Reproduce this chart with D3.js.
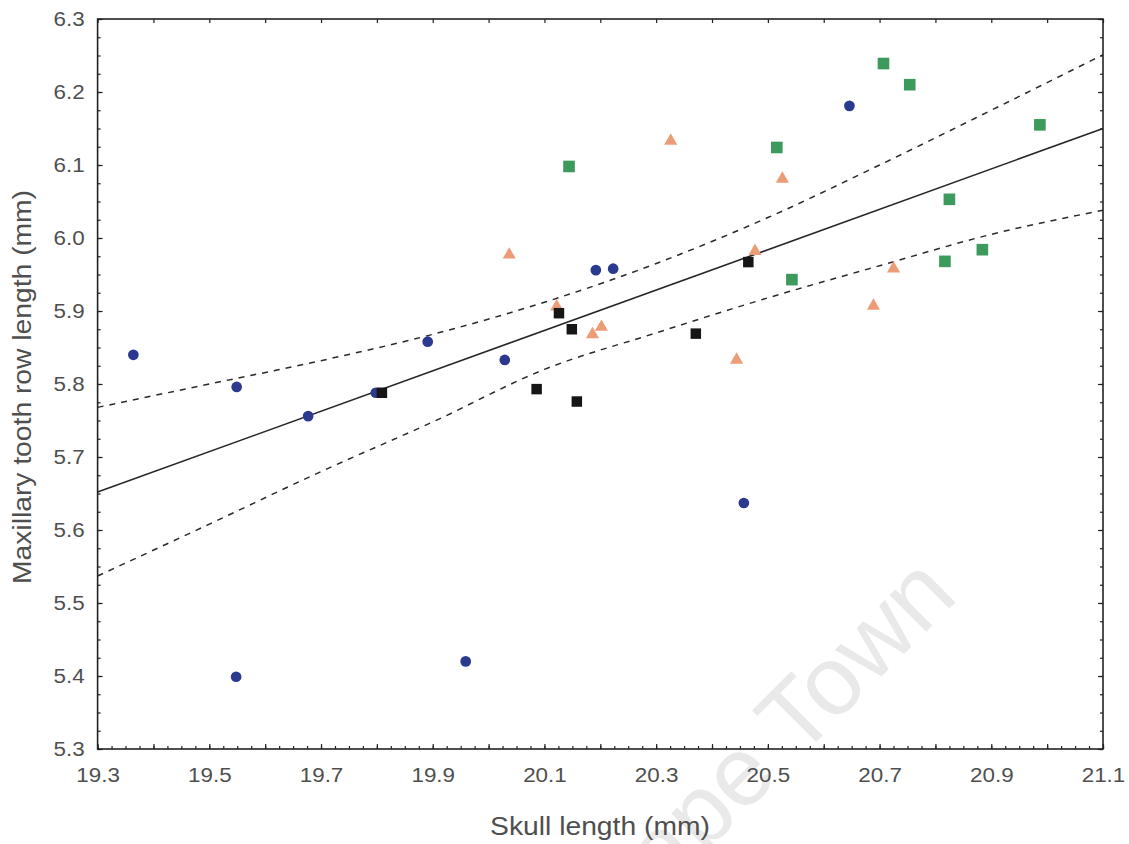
<!DOCTYPE html>
<html>
<head>
<meta charset="utf-8">
<script src="https://cdn.jsdelivr.net/npm/d3@7"></script>
<style>
  body { margin: 0; background: #ffffff; }
  text { font-family: "Liberation Sans", Arial, sans-serif; }
</style>
</head>
<body>
<svg id="chart" width="1129" height="844"></svg>
<script>
// Skull length vs. maxillary tooth row length (mm), four sample groups,
// with the pooled regression line and its confidence band.

const xTicks = [19.3, 19.5, 19.7, 19.9, 20.1, 20.3, 20.5, 20.7, 20.9, 21.1];
const yTicks = [5.3, 5.4, 5.5, 5.6, 5.7, 5.8, 5.9, 6.0, 6.1, 6.2, 6.3];

// group 1 – blue circles
const blueX = [19.364, 19.549, 19.677, 19.798, 19.891, 20.029, 20.192, 20.223, 20.646, 20.457, 19.548, 19.959];
const blueY = [5.840, 5.796, 5.756, 5.788, 5.858, 5.833, 5.956, 5.958, 6.181, 5.637, 5.399, 5.420];

// group 2 – black squares
const blackX = [19.809, 20.086, 20.126, 20.149, 20.158, 20.371, 20.465];
const blackY = [5.788, 5.793, 5.897, 5.875, 5.776, 5.869, 5.967];

// group 3 – orange triangles
const orangeX = [20.037, 20.122, 20.186, 20.202, 20.326, 20.444, 20.477, 20.526, 20.689, 20.725];
const orangeY = [5.977, 5.906, 5.868, 5.878, 6.133, 5.833, 5.982, 6.081, 5.907, 5.958];

// group 4 – green squares
const greenX = [20.144, 20.516, 20.707, 20.754, 20.987, 20.825, 20.817, 20.884, 20.543];
const greenY = [6.098, 6.124, 6.239, 6.210, 6.155, 6.053, 5.968, 5.984, 5.943];

// regression line and confidence limits
const fitX = [19.3, 21.1];
const fitY = [5.652, 6.150];
const bandX = [19.3, 19.5, 19.7, 19.9, 20.1, 20.3, 20.5, 20.7, 20.9, 21.1];
const bandUpper = [5.768, 5.800, 5.832, 5.868, 5.912, 5.965, 6.028, 6.100, 6.175, 6.251];
const bandLower = [5.537, 5.608, 5.680, 5.748, 5.820, 5.870, 5.918, 5.962, 6.005, 6.038];

const svg = d3.select("#chart");
const plotL = 97.6, plotR = 1103, plotT = 19, plotB = 749;

const x = d3.scaleLinear().domain([19.3, 21.1]).range([plotL, plotR]);
const y = d3.scaleLinear().domain([5.3, 6.3]).range([plotB, plotT]);

const textColor = "#4f4f4f";
const axisColor = "#222";

// faint watermark behind the plot
svg.append("text")
  .attr("transform", "translate(960,598) rotate(-45)")
  .attr("text-anchor", "end")
  .attr("font-size", 98)
  .attr("fill", "#e9e9e9")
  .text("Cape Town");

// regression line
const line = d3.line().x(d => x(d[0])).y(d => y(d[1]));
svg.append("path")
  .attr("d", line(fitX.map((v, i) => [v, fitY[i]])))
  .attr("fill", "none").attr("stroke", "#262626").attr("stroke-width", 1.6);

// confidence limits
const curve = d3.line().x(d => x(d[0])).y(d => y(d[1])).curve(d3.curveMonotoneX);
[bandUpper, bandLower].forEach(arr => {
  svg.append("path")
    .attr("d", curve(bandX.map((v, i) => [v, arr[i]])))
    .attr("fill", "none").attr("stroke", "#2a2a2a").attr("stroke-width", 1.5)
    .attr("stroke-dasharray", "6,6");
});

// markers
const sym = (type, size) => d3.symbol().type(type).size(size)();
function drawGroup(xs, ys, type, size, color) {
  svg.append("g").selectAll("path")
    .data(xs.map((v, i) => [v, ys[i]]))
    .join("path")
    .attr("transform", d => `translate(${x(d[0])},${y(d[1])})`)
    .attr("d", sym(type, size))
    .attr("fill", color);
}
drawGroup(blueX, blueY, d3.symbolCircle, 90, "#2b3a8e");
drawGroup(orangeX, orangeY, d3.symbolTriangle, 75, "#ec9c76");
drawGroup(blackX, blackY, d3.symbolSquare, 110, "#161616");
drawGroup(greenX, greenY, d3.symbolSquare, 135, "#3c9a5c");

// frame
svg.append("rect")
  .attr("x", plotL).attr("y", plotT)
  .attr("width", plotR - plotL).attr("height", plotB - plotT)
  .attr("fill", "none").attr("stroke", axisColor).attr("stroke-width", 1.6);

// tick marks (inward)
const xMinor = d3.range(0, 73).map(i => 19.3 + i * 0.025);
const xMajor = d3.range(0, 19).map(i => 19.3 + i * 0.1);
const yMinor = d3.range(0, 41).map(i => 5.3 + i * 0.025);
const yMajor = d3.range(0, 11).map(i => 5.3 + i * 0.1);

function ticks(axisFn, scale, values, size, translate) {
  const g = svg.append("g")
    .attr("transform", translate)
    .call(axisFn(scale).tickValues(values).tickSize(-size).tickFormat(""));
  g.select(".domain").remove();
  g.selectAll("line").attr("stroke", axisColor).attr("stroke-width", 1.2);
}
ticks(d3.axisBottom, x, xMinor, 3, `translate(0,${plotB})`);
ticks(d3.axisBottom, x, xMajor, 5, `translate(0,${plotB})`);
ticks(d3.axisTop, x, xMajor, 4, `translate(0,${plotT})`);
ticks(d3.axisLeft, y, yMinor, 3, `translate(${plotL},0)`);
ticks(d3.axisLeft, y, yMajor, 5, `translate(${plotL},0)`);
ticks(d3.axisRight, y, yMinor, 3, `translate(${plotR},0)`);
ticks(d3.axisRight, y, yMajor, 5, `translate(${plotR},0)`);

// tick labels
const fmt = d3.format(".1f");
const gx = svg.append("g")
  .attr("transform", `translate(0,${plotB})`)
  .call(d3.axisBottom(x).tickValues(xTicks).tickSize(0).tickPadding(19).tickFormat(fmt));
const gy = svg.append("g")
  .attr("transform", `translate(${plotL},0)`)
  .call(d3.axisLeft(y).tickValues(yTicks).tickSize(0).tickPadding(13).tickFormat(fmt));
[gx, gy].forEach(g => {
  g.select(".domain").remove();
  g.selectAll("text")
    .attr("font-size", 20)
    .attr("fill", textColor)
    .style("font-family", '"Liberation Sans", Arial, sans-serif');
});

// axis titles
svg.append("text")
  .attr("class", "stretch")
  .attr("x", 600).attr("y", 835)
  .attr("text-anchor", "middle")
  .attr("font-size", 25).attr("fill", textColor)
  .text("Skull length (mm)");

svg.append("text")
  .attr("class", "stretch")
  .attr("transform", "translate(31,387) rotate(-90)")
  .attr("text-anchor", "middle")
  .attr("font-size", 25).attr("fill", textColor)
  .text("Maxillary tooth row length (mm)");

// the lettering is set slightly wide
function widen(sel, k) {
  sel.each(function () {
    const len = this.getComputedTextLength();
    d3.select(this).attr("textLength", len * k).attr("lengthAdjust", "spacingAndGlyphs");
  });
}
widen(gx.selectAll("text"), 1.12);
widen(gy.selectAll("text"), 1.12);
widen(svg.selectAll("text.stretch"), 1.13);
</script>
</body>
</html>
